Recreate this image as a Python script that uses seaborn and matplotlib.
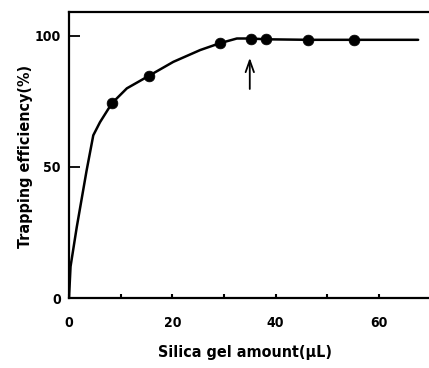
import matplotlib
matplotlib.use("Agg")
import matplotlib.pyplot as plt
import seaborn as sns
import pandas as pd

# Measured points (markers)
point_x = [8.3, 15.4, 29.2, 35.2, 38.1, 46.3, 55.2]
point_y = [74.2, 84.6, 97.1, 98.9, 98.6, 98.4, 98.4]

# Hand-drawn smooth curve through the data
curve_x = [0, 0.3, 1.5, 3.4, 4.7, 6.0, 8.3, 11.2, 15.4, 20.2, 25.4, 29.2, 32.5, 35.2, 38.1, 46.3, 55.2, 67.6]
curve_y = [0, 12, 27, 48.5, 62, 67.0, 74.2, 79.9, 84.6, 90, 94.5, 97.1, 98.9, 98.9, 98.6, 98.4, 98.4, 98.4]

arrow_x = 35.0
arrow_tail_y = 78.6
arrow_head_y = 92.6

xticks = [0, 10, 20, 30, 40, 50, 60]
xticklabels = ["0", "", "20", "", "40", "", "60"]
yticks = [0, 50, 100]
yticklabels = ["0", "50", "100"]

sns.set_theme(style="white")
plt.rcParams['font.family'] = ['DejaVu Sans']
plt.rcParams['font.stretch'] = 'condensed'
plt.rcParams['font.weight'] = 'bold'
plt.rcParams['text.color'] = 'black'
plt.rcParams['axes.labelcolor'] = 'black'
plt.rcParams['xtick.color'] = 'black'
plt.rcParams['ytick.color'] = 'black'

fig = plt.figure(figsize=(4.29, 3.68), dpi=100)
ax = fig.add_axes([69/429, 70/368, 360/429, 286/368])

curve = pd.DataFrame({"x": curve_x, "y": curve_y})
pts = pd.DataFrame({"x": point_x, "y": point_y})
sns.lineplot(data=curve, x="x", y="y", sort=False, color="black", linewidth=1.8, ax=ax)
sns.scatterplot(data=pts, x="x", y="y", color="black", s=60, edgecolor="black", linewidth=0.5, zorder=5, ax=ax)

ax.annotate("", xy=(arrow_x, arrow_head_y), xytext=(arrow_x, arrow_tail_y),
            arrowprops=dict(arrowstyle="->,head_length=0.7,head_width=0.25", color="black", lw=1.3))

ax.set_xlim(0, 69.7)
ax.set_ylim(0, 109)
ax.set_xticks(xticks)
ax.set_xticklabels(xticklabels)
ax.set_yticks(yticks)
ax.set_yticklabels(yticklabels)
ax.tick_params(axis="x", bottom=True, direction="in", length=3, width=1.5, pad=13, labelsize=10)
ax.tick_params(axis="y", left=True, direction="in", length=8, width=1.3, pad=6, labelsize=10)
for t in ax.get_xticklabels() + ax.get_yticklabels():
    t.set_fontweight("bold")

for s in ["left", "bottom", "top"]:
    ax.spines[s].set_linewidth(1.6)
    ax.spines[s].set_color("black")
ax.spines["right"].set_visible(False)

ax.set_xlabel("Silica gel amount(μL)", fontsize=11.5, fontweight="bold")
ax.set_ylabel("Trapping efficiency(%)", fontsize=11.5, fontweight="bold")
ax.xaxis.set_label_coords((245 - 69) / 360, -(353 - 298) / 286)
ax.xaxis.label.set_va("center")
ax.yaxis.set_label_coords(-(69 - 26) / 360, (298 - 156) / 286)
ax.yaxis.label.set_va("center")

fig.savefig("out.png", dpi=100)
